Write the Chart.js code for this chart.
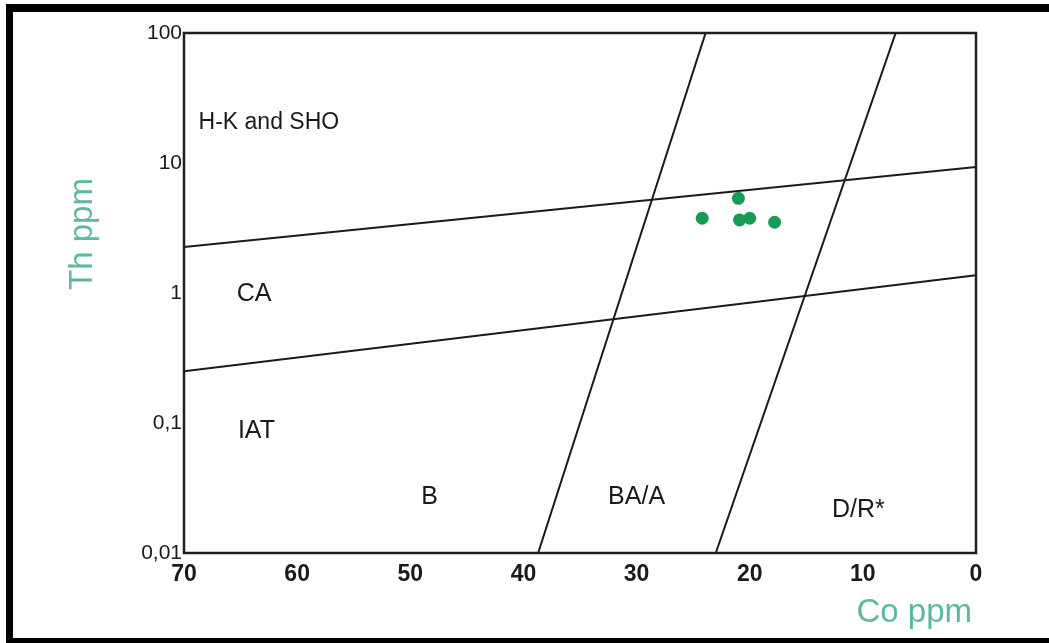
<!DOCTYPE html>
<html>
<head>
<meta charset="utf-8">
<script src="https://cdn.jsdelivr.net/npm/chart.js@4.4.1/dist/chart.umd.min.js"></script>
<style>
  html, body { margin: 0; padding: 0; background: #ffffff; }
  #wrap { width: 1049px; height: 643px; position: relative; }
</style>
</head>
<body>
<div id="wrap"><canvas id="c" width="1049" height="643"></canvas></div>
<script>
// ---- Data ----
const sampleCo = [24.2, 21.0, 20.9, 20.0, 17.8];
const sampleTh = [3.76, 5.35, 3.65, 3.76, 3.50];

// Field boundary lines (Co, Th)
const upperLineCo = [70, 0];
const upperLineTh = [2.26, 9.3];
const lowerLineCo = [70, 0];
const lowerLineTh = [0.25, 1.37];
const leftSteepCo = [23.9, 38.7];
const leftSteepTh = [100, 0.01];
const rightSteepCo = [7.1, 23.0];
const rightSteepTh = [100, 0.01];

// Field labels
const fieldNames = ['H-K and SHO', 'CA', 'IAT', 'B', 'BA/A', 'D/R*'];
const fieldCo = [62.5, 63.8, 63.6, 48.3, 30.0, 10.4];
const fieldTh = [20.6, 0.98, 0.087, 0.027, 0.027, 0.0214];

// Axis ticks
const xTickValues = [70, 60, 50, 40, 30, 20, 10, 0];
const yTickValues = [0.01, 0.1, 1, 10, 100];
const yTickLabels = ['0,01', '0,1', '1', '10', '100'];

const xTitle = 'Co ppm';
const yTitle = 'Th ppm';

// ---- Helpers ----
const pts = (xs, ys) => xs.map((x, i) => ({ x: x, y: ys[i] }));
const lineDs = (xs, ys) => ({
  type: 'line', data: pts(xs, ys), borderColor: '#1a1a1a', borderWidth: 2,
  pointRadius: 0, fill: false, showLine: true, tension: 0, order: 2
});

const FONT = "'Liberation Sans', Arial, sans-serif";
const TEAL = '#5db89f';

const decor = {
  id: 'decor',
  afterDatasetsDraw(chart) {
    const ctx = chart.ctx;
    const a = chart.chartArea;
    const xs = chart.scales.x, ys = chart.scales.y;
    ctx.save();
    // plot box
    ctx.strokeStyle = '#1f1f1f';
    ctx.lineWidth = 2.5;
    ctx.strokeRect(a.left, a.top, a.right - a.left, a.bottom - a.top);
    // field labels
    ctx.fillStyle = '#1a1a1a';
    ctx.textBaseline = 'middle';
    ctx.textAlign = 'center';
    fieldNames.forEach((n, i) => {
      ctx.font = (i === 0 ? '23px ' : '25px ') + FONT;
      ctx.fillText(n, xs.getPixelForValue(fieldCo[i]), ys.getPixelForValue(fieldTh[i]));
    });
    // axis titles
    ctx.fillStyle = TEAL;
    ctx.font = '33px ' + FONT;
    ctx.textAlign = 'right';
    ctx.textBaseline = 'alphabetic';
    ctx.fillText(xTitle, 972, 622);
    ctx.translate(92, 234);
    ctx.rotate(-Math.PI / 2);
    ctx.textAlign = 'center';
    ctx.fillText(yTitle, 0, 0);
    ctx.restore();
    // outer frame (top, left, bottom)
    ctx.save();
    ctx.fillStyle = '#000000';
    ctx.fillRect(6, 4, 1043, 8);
    ctx.fillRect(6, 4, 7, 639);
    ctx.fillRect(6, 638, 1043, 5);
    ctx.restore();
  }
};

new Chart(document.getElementById('c'), {
  type: 'scatter',
  data: {
    datasets: [
      {
        label: 'Samples', data: pts(sampleCo, sampleTh),
        backgroundColor: '#1a9b55', borderWidth: 0, pointRadius: 6.5, order: 1
      },
      lineDs(upperLineCo, upperLineTh),
      lineDs(lowerLineCo, lowerLineTh),
      lineDs(leftSteepCo, leftSteepTh),
      lineDs(rightSteepCo, rightSteepTh)
    ]
  },
  options: {
    responsive: false,
    animation: false,
    layout: { padding: { top: 33, right: 73, bottom: 0, left: 0 } },
    plugins: { legend: { display: false }, tooltip: { enabled: false } },
    scales: {
      x: {
        type: 'linear', reverse: true, min: 0, max: 70,
        afterBuildTicks: s => { s.ticks = xTickValues.map(v => ({ value: v })); },
        afterFit: s => { s.height = 90; },
        grid: { display: false, drawTicks: false, tickLength: 0 },
        border: { display: false },
        ticks: { font: { family: FONT, size: 23, weight: 'bold' }, color: '#1a1a1a', padding: 8, maxRotation: 0 }
      },
      y: {
        type: 'logarithmic', min: 0.01, max: 100,
        afterBuildTicks: s => { s.ticks = yTickValues.map(v => ({ value: v })); },
        afterFit: s => { s.width = 184; },
        grid: { display: false, drawTicks: false, tickLength: 0 },
        border: { display: false },
        ticks: {
          font: { family: FONT, size: 21 }, color: '#1a1a1a', padding: 2,
          callback: (v) => { const i = yTickValues.indexOf(v); return i >= 0 ? yTickLabels[i] : ''; }
        }
      }
    }
  },
  plugins: [decor]
});
</script>
</body>
</html>
